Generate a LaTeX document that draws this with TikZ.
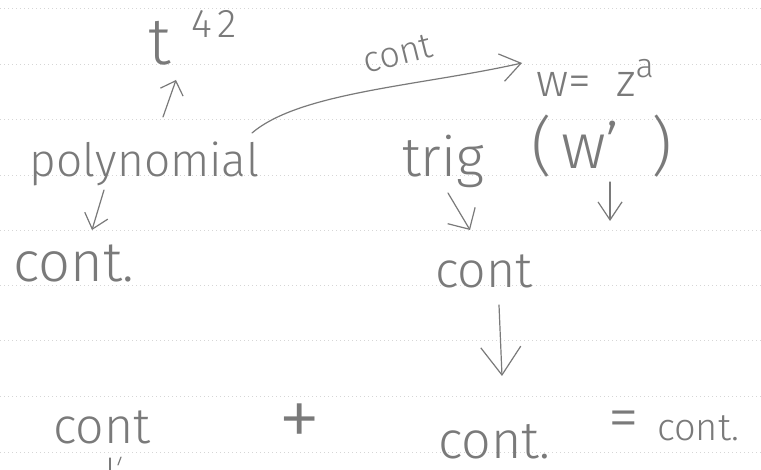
\documentclass[tikz,border=0pt]{standalone}
\usepackage{fontspec}
\setmainfont{Fira Sans Light}
\usetikzlibrary{arrows.meta}
\definecolor{pencil}{HTML}{7A7A7A}
\definecolor{ruling}{HTML}{D6D6D6}
\newcommand\handsize[1]{\fontsize{#1}{#1}\selectfont}
\tikzset{
  hand/.style={text=pencil, inner sep=0pt, outer sep=0pt},
  stroke/.style={draw=pencil, line width=1.2pt, line cap=round, line join=round},
  arr/.style={stroke, -{Straight Barb[length=#1,width=24pt,line width=1.2pt]}},
  arr/.default=12pt,
  longarr/.style={stroke, -{Straight Barb[length=28pt,width=40pt,line width=1.2pt]}},
  ruleline/.style={draw=ruling, line width=0.7pt, dash pattern=on 1.2pt off 2.8pt}
}
\begin{document}
\begin{tikzpicture}[x=1pt,y=-1pt]
  \fill[white] (0,0) rectangle (761,470);
  \useasboundingbox (0,0) rectangle (761,470);
  % ruled paper
  \foreach \yy in {8,64,119,175,230,285,340,396,452}
    \draw[ruleline] (0,\yy) -- (761,\yy);

  % first group: polynomial
  \node[hand, anchor=base west] (tvar) at (148,65) {\handsize{66}t};
  \node[hand, anchor=base west] (expo) at (191,38) {\handsize{40}4\hspace{0.15em}2};
  \node[hand, anchor=base west] (poly) at (30,177) {\handsize{46}polynomial};
  \node[hand, anchor=base west] (contA) at (13,282) {\handsize{56}cont.};

  % second group: trig and power
  \node[hand, anchor=base west] (wz) at (536,97)
    {\handsize{46}w=\hspace{0.55em}z\raisebox{0.42em}{\handsize{34}a}};
  \node[hand, anchor=base west] (trig) at (402,177) {\handsize{55}trig};
  \node[hand, anchor=base west] (wprime) at (531,169)
    {\handsize{64}(\hspace{0.15em}w'\hspace{0.5em})};
  \node[hand, anchor=base west] (contB) at (435,288) {\handsize{50}cont};

  % bottom line
  \node[hand, anchor=base west] (contC) at (53,443) {\handsize{50}cont};
  \node[hand] (plus) at (300,426) {\handsize{86}+};
  \node[hand, anchor=base west, text depth=0pt] (contD) at (438,459) {\handsize{52}cont.};
  \node[hand] (eq) at (624,425) {\handsize{62}=};
  \node[hand, anchor=base west] (contE) at (657,440) {\handsize{38}cont.};

  % arrow ends
  \coordinate (polyTop) at (163,117);
  \coordinate (tTip) at (176,80);
  \coordinate (polyLow) at (104,190);
  \coordinate (contATop) at (92,230);
  \coordinate (polyEnd) at (252,133);
  \coordinate (wzTip) at (522,63);
  \coordinate (trigLow) at (448,193);
  \coordinate (contBTop) at (470,230);
  \coordinate (wLow) at (610,182);
  \coordinate (wDown) at (610,221);
  \coordinate (contBLow) at (499,305);
  \coordinate (contDTop) at (502,376);

  \draw[arr] (polyTop) -- (tTip);
  \draw[arr=14pt] (polyLow) -- (contATop);
  \draw[stroke, -{Straight Barb[length=20pt,width=28pt,line width=1.2pt]}]
    (polyEnd) .. controls (300,92) and (420,86) .. (wzTip);
  \node[hand, rotate=14] (contLabel) at (398,54) {\handsize{36}cont};
  \draw[stroke, -{Straight Barb[length=16pt,width=32pt,line width=1.2pt]}]
    (trigLow) -- (contBTop);
  \draw[stroke, -{Straight Barb[length=18pt,width=24pt,line width=1.2pt]}]
    (wLow) -- (wDown);
  \draw[longarr] (contBLow) -- (contDTop);

  % marks from the next line, below the page edge
  \draw[stroke] (110,458) -- (110,470);
  \draw[stroke] (121,457) -- (118,465);
\end{tikzpicture}
\end{document}
